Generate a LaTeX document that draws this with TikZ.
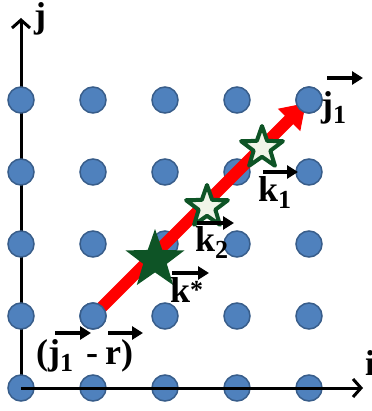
\documentclass[tikz,border=0pt]{standalone}
\usepackage{fontspec}
\setmainfont{Liberation Serif}
\usetikzlibrary{shapes.geometric,arrows.meta}
\definecolor{dotfill}{RGB}{79,129,189}
\definecolor{dotedge}{RGB}{56,93,138}
\definecolor{stargreen}{RGB}{14,84,38}
\definecolor{starfill}{RGB}{240,244,232}
\newcommand{\lblfont}{\fontsize{36}{36}\selectfont\bfseries}
\newcommand{\sbs}[1]{\raisebox{-7pt}{\fontsize{26}{26}\selectfont\bfseries #1}}
\begin{document}
\begin{tikzpicture}[x=1pt,y=-1pt,
  dot/.style={circle, fill=dotfill, draw=dotedge, line width=1.5pt, minimum size=26pt, inner sep=0pt},
  axisline/.style={line width=3pt, -{Straight Barb[length=8pt,width=18pt,line width=3pt]}},
  vecarrow/.style={line width=3.2pt, -{Triangle[length=11pt,width=13pt]}},
  redarrow/.style={draw=red, line width=12pt, -{Triangle[length=24pt,width=30pt]}},
  bigstar/.style={star, star points=5, star point ratio=2.5, minimum size=62pt, inner sep=0pt, fill=stargreen},
  smallstar/.style={star, star points=5, star point ratio=2.5, minimum size=44pt, inner sep=0pt, fill=starfill, draw=stargreen, line width=4pt, line join=round},
  lbl/.style={inner sep=0pt, anchor=base west, font=\lblfont}
]
\useasboundingbox (0,0) rectangle (371,411);
% vertical axis (below dots)
\coordinate (ytip) at (21,18);
\coordinate (xtip) at (363,388);
\coordinate (o) at (21,388);
\draw[axisline] (o) -- (ytip);
% lattice dots
\foreach \i in {0,...,4}{
  \foreach \j in {0,...,4}{
    \node[dot] (d\i\j) at ({21+72*\i},{388-72*\j}) {};
  }
}
% red arrow
\draw[redarrow] (d11.center) -- ([shift={(-3pt,-3pt)}]d44.center);
\node[dot] (e11) at (d11) {};
\node[dot] (e44) at (d44) {};
% horizontal axis (over dots)
\draw[axisline] (o) -- (xtip);
% stars
\node[bigstar] (s0) at (155,260) {};
\node[smallstar] (s2) at (207,207) {};
\node[smallstar] (s1) at (262,148) {};
% labels
\node[lbl] (lj) at (34,28) {j};
\node[lbl] (li) at (365,375) {i};
\node[lbl] (lj1) at (321,117) {j\sbs{1}};
\node[lbl] (lk1) at (258,201) {k\sbs{1}};
\node[lbl] (lk2) at (195,251) {k\sbs{2}};
\node[lbl] (lks) at (170,302) {k\raisebox{4pt}{\fontsize{26}{26}\selectfont *}};
\node[lbl] (ljr) at (36,364) {(j\sbs{1}\hspace{13pt}-\hspace{7pt}r)};
% vector arrows
\draw[vecarrow] (327,78) -- (363,78);
\draw[vecarrow] (263,172) -- (298,172);
\draw[vecarrow] (197,223) -- (234,223);
\draw[vecarrow] (172,273) -- (209,273);
\draw[vecarrow] (55,333) -- (91,333);
\draw[vecarrow] (108,333) -- (143,333);
\end{tikzpicture}
\end{document}
